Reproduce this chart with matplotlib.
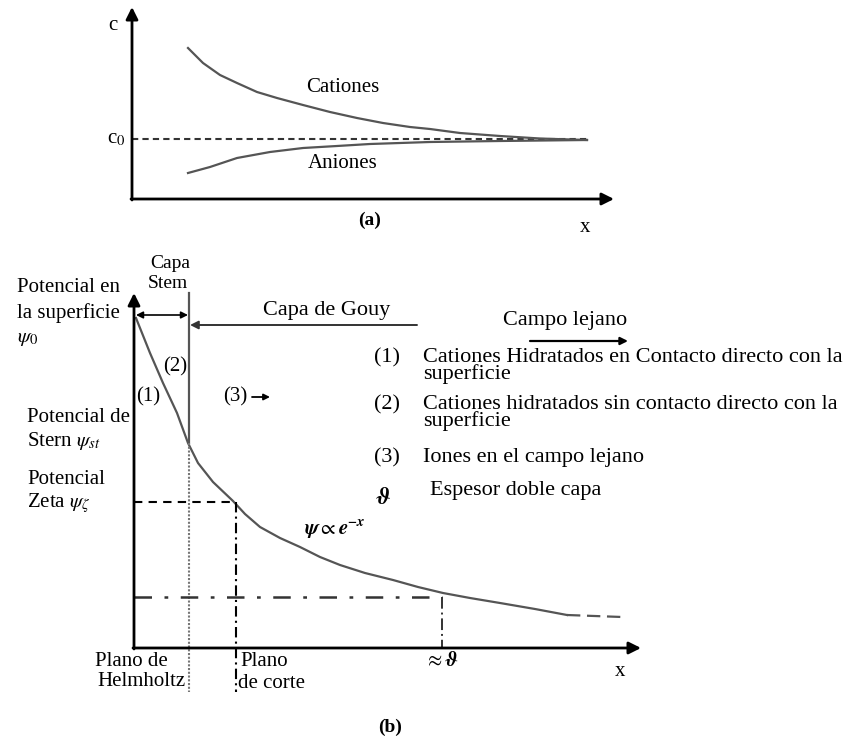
import numpy as np
import matplotlib
matplotlib.use("Agg")
import matplotlib.pyplot as plt

plt.rcParams['font.family'] = ['Liberation Serif', 'DejaVu Serif']
plt.rcParams['mathtext.fontset'] = 'stix'

# --- panel (a): concentration profiles (pixel coords of the drawing) ---
cat_x = [188, 203, 220, 237, 257, 277, 303, 330, 357, 383, 410, 430, 460, 500, 540, 587]
cat_y = [48, 63, 75, 83, 92, 98, 105, 112, 118, 123, 127, 129, 133, 136, 138.5, 140]
an_x = [188, 210, 237, 270, 303, 337, 370, 430, 500, 587]
an_y = [173, 167, 158, 152, 148, 146, 144, 142, 141, 140]
c0_level = 139

# --- panel (b): potential profile ---
psi_x = [136, 150, 163, 177, 188, 198, 213, 233, 245, 260, 280, 300, 320, 340, 365,
         393, 418, 443, 470, 500, 535, 567]
psi_y = [318, 353, 383, 413, 443, 463, 482, 501, 514, 527, 538, 547, 557, 565, 573,
         580, 587, 593, 598, 603, 609, 615]
tail_x = [567, 622]
tail_y = [615, 617]

helmholtz_x = 189   # plano de Helmholtz / limite capa Stern
corte_x = 236       # plano de corte
zeta_y = 502
theta_x = 442
theta_y = 597

legend_items = [
    ("(1)", "Cationes Hidratados en Contacto directo con la\nsuperficie", 358),
    ("(2)", "Cationes hidratados sin contacto directo con la\nsuperficie", 405),
    ("(3)", "Iones en el campo lejano", 458),
]

W, H, dpi = 857, 739, 100
fig = plt.figure(figsize=(W / dpi, H / dpi), dpi=dpi)
ax = fig.add_axes([0, 0, 1, 1])
ax.set_xlim(0, W)
ax.set_ylim(H, 0)
ax.axis('off')

fs = 15
gray = '#555555'


def arrow(x0, y0, x1, y1, lw=2, style='-|>', ms=16, color='k'):
    ax.annotate('', xy=(x1, y1), xytext=(x0, y0),
                arrowprops=dict(arrowstyle=style, lw=lw, color=color,
                                mutation_scale=ms, shrinkA=0, shrinkB=0))


# ---------- (a) ----------
arrow(132, 200, 132, 7, ms=18)
arrow(131, 199, 614, 199, ms=18)
ax.plot([132, 590], [c0_level, c0_level], color='#333333', lw=1.5, ls=(0, (3, 2)))
ax.plot(cat_x, cat_y, color=gray, lw=1.6)
ax.plot(an_x, an_y, color=gray, lw=1.6)
ax.text(113, 25, 'c', fontsize=fs, ha='center', va='center')
ax.text(116, 139, r'c$_0$', fontsize=fs, ha='center', va='center')
ax.text(343, 88, 'Cationes', fontsize=fs, ha='center', va='center')
ax.text(343, 163, 'Aniones', fontsize=fs, ha='center', va='center')
ax.text(370, 220, '(a)', fontsize=fs - 1, ha='center', va='center', fontweight='bold')
ax.text(585, 227, 'x', fontsize=fs, ha='center', va='center')

# ---------- (b) ----------
arrow(134, 649, 134, 293, ms=18)
arrow(133, 648, 641, 648, ms=18)
ax.plot(psi_x, psi_y, color=gray, lw=1.6)
ax.plot(tail_x, tail_y, color=gray, lw=1.6, ls=(0, (6, 3)))

# capa Stern
ax.plot([helmholtz_x, helmholtz_x], [293, 443], color=gray, lw=1.6)
ax.plot([helmholtz_x, helmholtz_x], [443, 692], color='#777777', lw=1.5, ls=(0, (1, 0.8)))
arrow(136, 315, 188, 315, lw=1.2, style='<|-|>', ms=10)
arrow(417, 325, 190, 325, lw=1.4, ms=12, color='#333333')

# guide lines
ax.plot([134, corte_x], [zeta_y, zeta_y], color='k', lw=1.5, ls=(0, (4, 3)))
ax.plot([corte_x, corte_x], [zeta_y, 692], color='k', lw=1.5, ls=(0, (5, 2, 1, 2)))
ax.plot([134, theta_x], [theta_y, theta_y], color='#333333', lw=1.8, ls=(0, (7, 5, 1.5, 5)))
ax.plot([theta_x, theta_x], [theta_y, 648], color='#333333', lw=1.4, ls=(0, (6, 2, 1, 2)))

# labels on the left
lfs = fs
ax.text(17, 287, 'Potencial en', fontsize=lfs, va='center')
ax.text(17, 313, 'la superficie', fontsize=lfs, va='center')
ax.text(17, 339, r'$\psi_0$', fontsize=lfs, va='center')
ax.text(27, 418, 'Potencial de', fontsize=lfs, va='center')
ax.text(27, 441, r'Stern $\psi_{st}$', fontsize=lfs, va='center')
ax.text(27, 480, 'Potencial', fontsize=lfs, va='center')
ax.text(27, 503, r'Zeta $\psi_\zeta$', fontsize=lfs, va='center')

ax.text(170, 263, 'Capa', fontsize=fs - 1, ha='center', va='center')
ax.text(168, 284, 'Stem', fontsize=fs - 1, ha='center', va='center')
ax.text(327, 310, 'Capa de Gouy', fontsize=16, ha='center', va='center')
ax.text(175, 367, '(2)', fontsize=fs, ha='center', va='center')
ax.text(148, 397, '(1)', fontsize=fs, ha='center', va='center')
ax.text(235, 397, '(3)', fontsize=fs, ha='center', va='center')
arrow(252, 397, 270, 397, lw=1.3, ms=9)

ax.text(565, 320, 'Campo lejano', fontsize=16, ha='center', va='center')
arrow(530, 341, 628, 341, lw=1.6, ms=11)

for num, desc, yy in legend_items:
    ax.text(387, yy, num, fontsize=16, ha='center', va='center')
    ax.text(423, yy - 10, desc, fontsize=16, ha='left', va='top', linespacing=0.8)
ax.text(383, 498, r'$\mathbfit{\vartheta}$', fontsize=fs + 2, ha='center', va='center')
ax.text(430, 490, 'Espesor doble capa', fontsize=16, ha='left', va='center')

ax.text(335, 530, r'$\mathbfit{\psi}\propto\mathbfit{e}^{\mathbfit{-x}}$', fontsize=fs,
        ha='center', va='center')

ax.text(168, 661, 'Plano de', fontsize=fs, ha='right', va='center')
ax.text(186, 681, 'Helmholtz', fontsize=fs, ha='right', va='center')
ax.text(240, 661, 'Plano', fontsize=fs, ha='left', va='center')
ax.text(238, 683, 'de corte', fontsize=fs, ha='left', va='center')
ax.text(441, 662, r'$\approx\mathbfit{\vartheta}$', fontsize=fs, ha='center', va='center')
ax.text(620, 672, 'x', fontsize=fs, ha='center', va='center')
ax.text(390, 727, '(b)', fontsize=fs - 1, ha='center', va='center', fontweight='bold')

fig.savefig('out.png', dpi=dpi)
